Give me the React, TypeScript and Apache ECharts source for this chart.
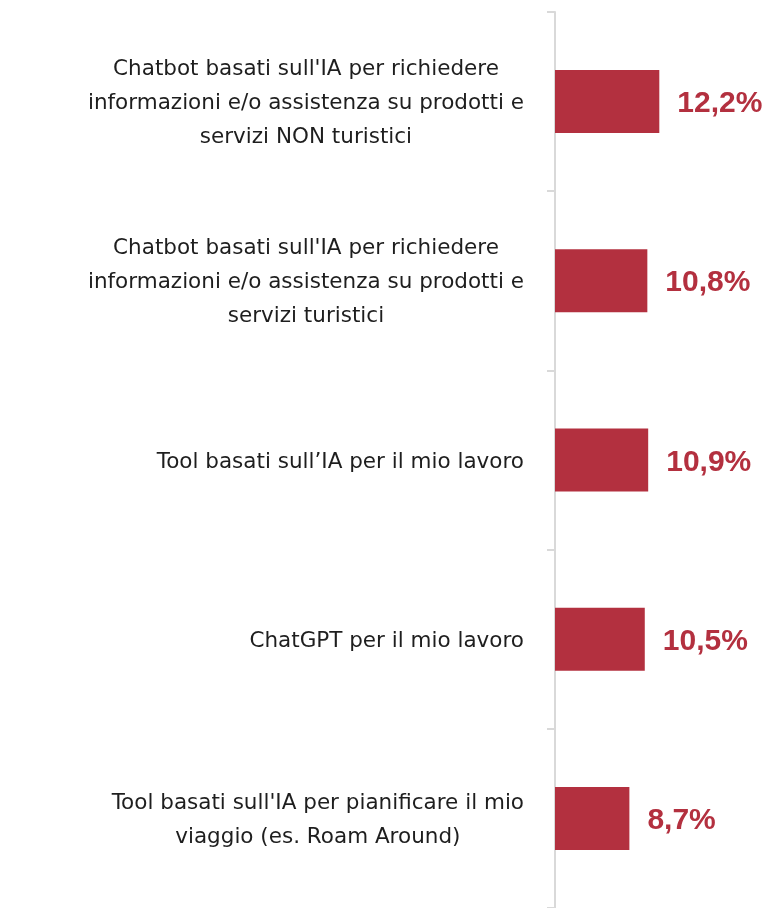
import React, { useEffect, useRef } from "react";
import * as echarts from "echarts";

const categories: string[] = [
  "Chatbot basati sull'IA per richiedere\ninformazioni e/o assistenza su prodotti e\nservizi NON turistici",
  "Chatbot basati sull'IA per richiedere\ninformazioni e/o assistenza su prodotti e\nservizi turistici",
  "Tool basati sull\u2019IA per il mio lavoro",
  "ChatGPT per il mio lavoro",
  "Tool basati sull'IA per pianificare il mio\nviaggio (es. Roam Around)",
];
const values: number[] = [12.2, 10.8, 10.9, 10.5, 8.7];
const valueLabels: string[] = ["12,2%", "10,8%", "10,9%", "10,5%", "8,7%"];

const RED = "#B3303F";

export default function App() {
  const ref = useRef<HTMLDivElement>(null);
  useEffect(() => {
    if (!ref.current) return;
    const chart = echarts.init(ref.current, undefined, { renderer: "svg" });
    chart.setOption({
      animation: false,
      grid: { left: 555, top: 12, height: 900, width: 171, containLabel: false },
      xAxis: { type: "value", min: 0, max: 20, show: false },
      yAxis: {
        type: "category",
        inverse: true,
        data: categories,
        axisLine: { show: true, lineStyle: { color: "#D9D9D9", width: 2 } },
        axisTick: { show: true, length: 8, lineStyle: { color: "#D9D9D9", width: 2 } },
        axisLabel: {
          margin: 31,
          align: "right",
          formatter: (v: string) =>
            v
              .split("\n")
              .map((l) => `{c|${l}}`)
              .join("\n"),
          rich: {
            c: {
              align: "center",
              fontFamily: "DejaVu Sans",
              fontSize: 21.5,
              color: "#1E1E1E",
              lineHeight: 34,
            },
          },
        },
      },
      series: [
        {
          type: "bar",
          data: values,
          barWidth: 63,
          itemStyle: { color: RED },
          label: {
            show: true,
            position: "right",
            distance: 18,
            formatter: (p: any) => valueLabels[p.dataIndex],
            fontFamily: "Liberation Sans",
            fontWeight: "bold",
            fontSize: 30,
            color: RED,
          },
        },
      ],
    });
    return () => chart.dispose();
  }, []);
  return (
    <div
      ref={ref}
      style={{ position: "fixed", left: 0, top: 0, width: 769, height: 908 }}
    />
  );
}
